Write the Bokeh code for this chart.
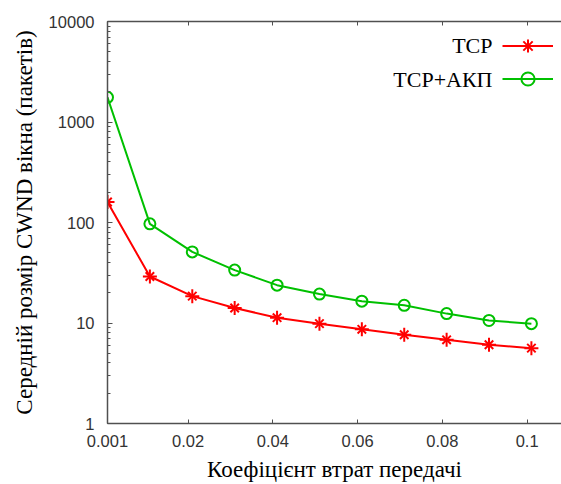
from bokeh.plotting import figure
from bokeh.models import (Range1d, LinearAxis, FixedTicker, LogTicker, Legend,
                          LegendItem, Label)
from bokeh.embed import file_html
from bokeh.resources import INLINE

# ---- data ----
loss_rate = [0.001, 0.011, 0.021, 0.031, 0.041, 0.051, 0.061, 0.071, 0.081, 0.091, 0.101]
cwnd_tcp = [160, 29, 18.5, 14.1, 11.3, 9.85, 8.65, 7.65, 6.8, 6.07, 5.62]
cwnd_tcp_akp = [1760, 97, 51, 33.6, 23.8, 19.4, 16.5, 15.0, 12.4, 10.6, 9.85]
x_ticks = [0.001, 0.02, 0.04, 0.06, 0.08, 0.1]
x_tick_labels = ["0.001", "0.02", "0.04", "0.06", "0.08", "0.1"]
y_ticks = [1, 10, 100, 1000, 10000]
y_tick_labels = ["1", "10", "100", "1000", "10000"]
series_names = ["TCP", "TCP+АКП"]
x_label = "Коефіцієнт втрат передачі"
y_label = "Середній розмір CWND вікна (пакетів)"

RED = "#ff0000"
GREEN = "#00c000"
AXIS = "#505050"
TICKFONT = "Liberation Sans"
SERIF = "Liberation Serif"

p = figure(width=561, height=484, output_backend="svg", toolbar_location=None,
           y_axis_type="log",
           x_range=Range1d(0.001, 0.1081), y_range=Range1d(1, 10000),
           min_border_left=107, min_border_top=21, min_border_right=0,
           min_border_bottom=10)
p.outline_line_color = None
p.xgrid.grid_line_color = None
p.ygrid.grid_line_color = None
p.background_fill_color = "white"
p.border_fill_color = "white"

# bottom axis
xa = p.xaxis[0]
xa.ticker = FixedTicker(ticks=x_ticks, minor_ticks=[])
xa.major_label_overrides = {t: l for t, l in zip(x_ticks, x_tick_labels)}
xa.major_tick_in = 4
xa.major_tick_out = 0
xa.minor_tick_line_color = None
xa.axis_line_color = AXIS
xa.axis_line_width = 1.5
xa.major_tick_line_color = AXIS
xa.major_label_text_font = TICKFONT
xa.major_label_text_font_size = "16.5px"
xa.major_label_text_color = "#333333"
xa.major_label_standoff = 11
xa.axis_label = x_label
xa.axis_label_text_font = SERIF
xa.axis_label_text_font_style = "normal"
xa.axis_label_text_font_size = "23px"
xa.axis_label_text_color = "#000000"
xa.axis_label_standoff = 7

# left axis
ya = p.yaxis[0]
ya.ticker = LogTicker(desired_num_ticks=5, num_minor_ticks=10)
ya.major_label_overrides = {t: l for t, l in zip(y_ticks, y_tick_labels)}
ya.major_tick_in = 5
ya.major_tick_out = 0
ya.minor_tick_in = 3
ya.minor_tick_out = 0
ya.axis_line_color = AXIS
ya.axis_line_width = 1.5
ya.major_tick_line_color = AXIS
ya.minor_tick_line_color = AXIS
ya.major_label_text_font = TICKFONT
ya.major_label_text_font_size = "16.5px"
ya.major_label_text_color = "#333333"
ya.major_label_standoff = 13
ya.axis_label = y_label
ya.axis_label_text_font = SERIF
ya.axis_label_text_font_style = "normal"
ya.axis_label_text_font_size = "23px"
ya.axis_label_text_color = "#000000"
ya.axis_label_standoff = 9

# top axis (mirror ticks, no labels)
top = LinearAxis(ticker=FixedTicker(ticks=x_ticks, minor_ticks=[]))
top.major_label_text_font_size = "10px"
top.major_label_text_color = None
top.major_label_standoff = 0
top.major_tick_in = 4
top.major_tick_out = 0
top.minor_tick_line_color = None
top.axis_line_color = AXIS
top.axis_line_width = 1.5
top.major_tick_line_color = AXIS
p.add_layout(top, "above")

# series
l1 = p.line(loss_rate, cwnd_tcp, line_color=RED, line_width=2)
m1a = p.scatter(loss_rate, cwnd_tcp, marker="cross", size=14, line_color=RED, line_width=2)
m1b = p.scatter(loss_rate, cwnd_tcp, marker="x", size=12, line_color=RED, line_width=2)
l2 = p.line(loss_rate, cwnd_tcp_akp, line_color=GREEN, line_width=2)
m2 = p.scatter(loss_rate, cwnd_tcp_akp, marker="circle", size=11, line_color=GREEN,
               fill_color=None, line_width=2)

legend = Legend(items=[LegendItem(label=" ", renderers=[l1, m1a, m1b]),
                       LegendItem(label=" ", renderers=[l2, m2])],
                location=(395, 328), orientation="vertical",
                glyph_width=51, glyph_height=33, spacing=0, padding=0, margin=0,
                label_standoff=0, label_width=0, label_text_font_size="10px",
                label_text_color=None,
                border_line_color=None, background_fill_alpha=0)
p.add_layout(legend, "center")

for name, yy in zip(series_names, [378, 344]):
    p.add_layout(Label(x=385, y=yy, x_units="screen", y_units="screen", text=name,
                       text_align="right", text_baseline="middle",
                       text_font=SERIF, text_font_size="22px", text_color="#000000"))

open("out.html", "w").write(file_html(p, INLINE))
